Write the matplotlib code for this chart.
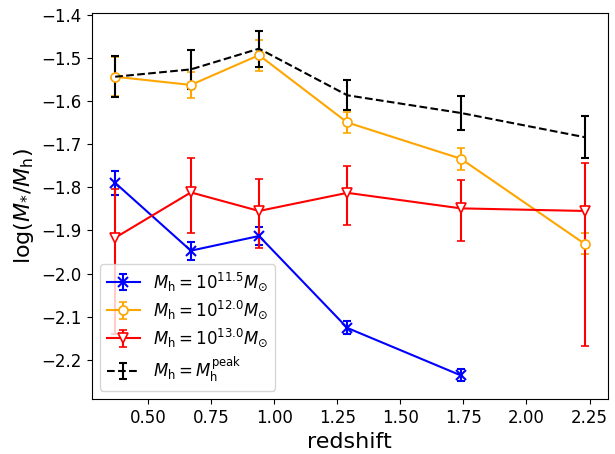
import numpy as np
import matplotlib
matplotlib.use("Agg")
import matplotlib.pyplot as plt

# redshift bins
z = [0.37, 0.67, 0.94, 1.29, 1.74, 2.23]

# M_h = 10^11.5
z_115 = z[:5]
y_115 = [-1.790, -1.947, -1.913, -2.126, -2.236]
e_115 = [0.028, 0.021, 0.021, 0.015, 0.014]

# M_h = 10^12.0
y_120 = [-1.544, -1.563, -1.494, -1.650, -1.734, -1.931]
e_120 = [0.045, 0.030, 0.036, 0.025, 0.025, 0.024]

# M_h = 10^13.0 (asymmetric errors)
y_130 = [-1.917, -1.812, -1.855, -1.813, -1.849, -1.855]
e_130_lo = [0.223, 0.095, 0.085, 0.075, 0.075, 0.313]
e_130_hi = [0.114, 0.080, 0.075, 0.062, 0.066, 0.112]

# M_h = M_h^peak
y_peak = [-1.544, -1.527, -1.479, -1.587, -1.628, -1.684]
e_peak = [0.048, 0.046, 0.042, 0.035, 0.040, 0.048]

fig = plt.figure(figsize=(6.15, 4.54), dpi=100)
ax = fig.add_axes([91.7/615, 1 - 399/454, (608 - 91.7)/615, (399 - 13)/454])

ax.errorbar(z_115, y_115, yerr=e_115, color='b', marker='x', ms=6.5, mew=1.5,
            lw=1.5, capsize=3, capthick=1.5, label=r'$M_{\rm h}=10^{11.5}M_{\odot}$')
ax.errorbar(z, y_120, yerr=e_120, color='orange', marker='o', ms=6.5, mfc='white',
            mew=1.2, lw=1.5, capsize=3, capthick=1.5,
            label=r'$M_{\rm h}=10^{12.0}M_{\odot}$')
ax.errorbar(z, y_130, yerr=[e_130_lo, e_130_hi], color='r', marker='v', ms=6.5,
            mfc='white', mew=1.2, lw=1.5, capsize=3, capthick=1.5,
            label=r'$M_{\rm h}=10^{13.0}M_{\odot}$')
ax.errorbar(z, y_peak, yerr=e_peak, color='k', ls='--', lw=1.5, capsize=3,
            capthick=1.5, label=r'$M_{\rm h}=M_{\rm h}^{\rm peak}$')

ax.set_xticks([0.5, 0.75, 1.0, 1.25, 1.5, 1.75, 2.0, 2.25])
ax.set_yticks([-1.4, -1.5, -1.6, -1.7, -1.8, -1.9, -2.0, -2.1, -2.2])
ax.tick_params(labelsize=12)
ax.set_xlabel('redshift', fontsize=16)
ax.set_ylabel(r'log$(M_{*}/M_{\rm h})$', fontsize=16)
ax.legend(loc='lower left', fontsize=12, labelspacing=0.35)

fig.savefig('out.png', dpi=100)
